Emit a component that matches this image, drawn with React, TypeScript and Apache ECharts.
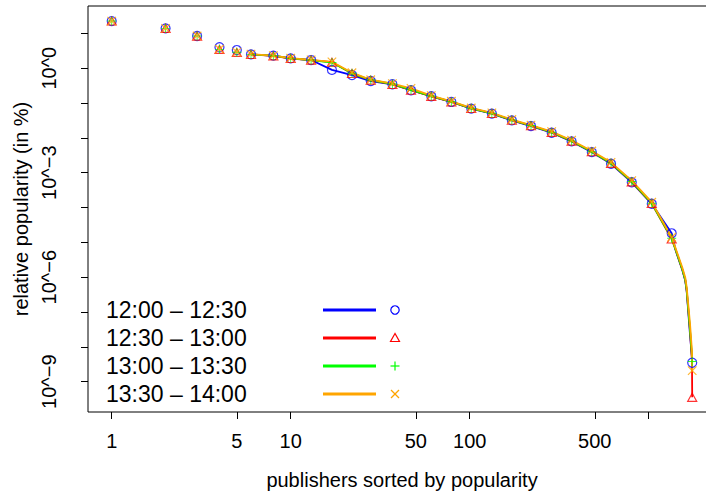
import React, { useEffect, useRef } from "react";
import * as echarts from "echarts";

// publishers rank at which markers are drawn
const xMarks = [1, 2, 3, 4, 5, 6, 8, 10, 13, 17, 22, 28, 37, 47, 61, 79, 102, 133, 172, 220, 287, 371, 481, 616, 804, 1040, 1344, 1750];
// relative popularity (in %) at the marker ranks
const blueVals = [22.5, 13.9, 8.36, 3.98, 3.31, 2.49, 2.28, 1.91, 1.71, 0.891, 0.635, 0.427, 0.345, 0.232, 0.156, 0.107, 0.069, 0.0497, 0.0318, 0.0218, 0.014, 0.0079, 0.00388, 0.0018, 5.3e-4, 1.28e-4, 1.82e-5, 3.5e-9];
const redVals = [22.5, 13.9, 8.3, 3.45, 2.83, 2.47, 2.26, 1.89, 1.7, 1.48, 0.7, 0.452, 0.34, 0.232, 0.155, 0.107, 0.0695, 0.05, 0.032, 0.0222, 0.0143, 0.00805, 0.00398, 0.00184, 5.45e-4, 1.3e-4, 1.25e-5, 3.55e-10];
const greenVals = [22.5, 13.9, 8.36, 3.47, 2.85, 2.49, 2.28, 1.91, 1.71, 1.45, 0.711, 0.457, 0.351, 0.238, 0.158, 0.109, 0.0703, 0.0506, 0.0325, 0.0225, 0.0145, 0.00815, 0.004, 0.00188, 5.55e-4, 1.33e-4, 1.31e-5, 3.8e-9];
const orangeVals = [22.5, 13.9, 8.4, 3.5, 2.88, 2.52, 2.3, 1.93, 1.73, 1.52, 0.74, 0.465, 0.36, 0.263, 0.162, 0.112, 0.072, 0.052, 0.0335, 0.0232, 0.015, 0.0085, 0.0042, 0.00198, 5.9e-4, 1.42e-4, 1.4e-5, 2.07e-9];

// extra points of the curves in the steep tail (no markers)
const xTail = [1413, 1541, 1600, 1630, 1702, 1745];
const blueTail = [6.0e-6, 1.6e-6, 8.0e-7, 4.0e-7, 2.2e-8, 4.8e-9];
const redTail = [6.1e-6, 1.65e-6, 8.3e-7, 4.2e-7, 2.8e-8, 4.0e-9];
const greenTail = [6.2e-6, 1.68e-6, 8.5e-7, 4.4e-7, 3.0e-8, 5.5e-9];
const orangeTail = [6.8e-6, 1.9e-6, 9.8e-7, 5.2e-7, 4.5e-8, 7.5e-9];

const periods = ["12:00 \u2013 12:30", "12:30 \u2013 13:00", "13:00 \u2013 13:30", "13:30 \u2013 14:00"];
const colors = ["#0000FF", "#FF0000", "#00FF00", "#FFA500"];

const xTickValues = [1, 5, 10, 50, 100, 500, 1000];
const xLabelValues = [1, 5, 10, 50, 100, 500];
const yTickValues = [10, 1, 0.1, 0.01, 1e-3, 1e-4, 1e-5, 1e-6, 1e-7, 1e-8, 1e-9];
const yLabelValues = [1, 1e-3, 1e-6, 1e-9];

const FONT = "Liberation Sans, Arial, Helvetica, sans-serif";
const LINE_START = 5; // curves are drawn from rank 6 onward

const PLUS = "path://M4.5,0H5.5V4.5H10V5.5H5.5V10H4.5V5.5H0V4.5H4.5Z";

export default function App() {
  const ref = useRef<HTMLDivElement>(null);
  useEffect(() => {
    if (!ref.current) return;
    const chart = echarts.init(ref.current, undefined, { renderer: "svg" });
    const vals = [blueVals, redVals, greenVals, orangeVals];
    const tails = [blueTail, redTail, greenTail, orangeTail];
    const symbols: any[] = [
      { symbol: "circle", symbolSize: 9, symbolRotate: 0, filled: false },
      { symbol: "triangle", symbolSize: [9, 8], symbolRotate: 0, filled: false },
      { symbol: PLUS, symbolSize: 9, symbolRotate: 0, filled: true },
      { symbol: PLUS, symbolSize: 12, symbolRotate: 45, filled: true },
    ];
    const series: any[] = [];
    vals.forEach((v, i) => {
      const pts: [number, number][] = [];
      for (let k = LINE_START; k < xMarks.length; k++) pts.push([xMarks[k], v[k]]);
      xTail.forEach((x, k) => pts.push([x, tails[i][k]]));
      pts.sort((a, b) => a[0] - b[0]);
      series.push({
        type: "line",
        name: periods[i],
        data: pts,
        showSymbol: false,
        lineStyle: { color: colors[i], width: 1.8 },
        z: 2 + i,
      });
    });
    vals.forEach((v, i) => {
      const s = symbols[i];
      series.push({
        type: "scatter",
        name: periods[i] + " markers",
        data: xMarks.map((x, k) => [x, v[k]]),
        symbol: s.symbol,
        symbolSize: s.symbolSize,
        symbolRotate: s.symbolRotate,
        itemStyle: s.filled
          ? { color: colors[i] }
          : { color: "transparent", borderColor: colors[i], borderWidth: 1.2 },
        z: 10 + i,
      });
    });

    const legendY = [310, 338, 366, 394];
    const graphic: any[] = [];
    periods.forEach((p, i) => {
      const y = legendY[i];
      graphic.push({
        type: "text",
        x: 106,
        y,
        style: { text: p, fontSize: 23, fontFamily: FONT, fill: "#000", verticalAlign: "middle", align: "left" },
      });
      graphic.push({
        type: "line",
        shape: { x1: 323, y1: y, x2: 376, y2: y },
        style: { stroke: colors[i], lineWidth: 3 },
      });
    });
    const mx = 395;
    graphic.push({ type: "circle", shape: { cx: mx, cy: legendY[0], r: 4.2 }, style: { fill: "none", stroke: colors[0], lineWidth: 1.2 } });
    graphic.push({
      type: "polygon",
      shape: { points: [[mx, legendY[1] - 4.5], [mx - 4.5, legendY[1] + 3.5], [mx + 4.5, legendY[1] + 3.5]] },
      style: { fill: "none", stroke: colors[1], lineWidth: 1.2 },
    });
    graphic.push({ type: "line", shape: { x1: mx - 4.5, y1: legendY[2], x2: mx + 4.5, y2: legendY[2] }, style: { stroke: colors[2], lineWidth: 1.2 } });
    graphic.push({ type: "line", shape: { x1: mx, y1: legendY[2] - 4.5, x2: mx, y2: legendY[2] + 4.5 }, style: { stroke: colors[2], lineWidth: 1.2 } });
    graphic.push({ type: "line", shape: { x1: mx - 4, y1: legendY[3] - 4, x2: mx + 4, y2: legendY[3] + 4 }, style: { stroke: colors[3], lineWidth: 1.2 } });
    graphic.push({ type: "line", shape: { x1: mx - 4, y1: legendY[3] + 4, x2: mx + 4, y2: legendY[3] - 4 }, style: { stroke: colors[3], lineWidth: 1.2 } });

    const fmtY = (v: number) => {
      const e = Math.round(Math.log10(v));
      return "10^" + String(e).replace("-", "\u2212");
    };

    chart.setOption({
      animation: false,
      backgroundColor: "#fff",
      textStyle: { fontFamily: FONT },
      grid: { left: 88, top: 6, right: 0, bottom: 83, show: true, borderColor: "#000", borderWidth: 1, containLabel: false },
      xAxis: {
        type: "log",
        logBase: 10,
        min: Math.pow(10, -0.1324),
        max: Math.pow(10, 3.376),
        axisLine: { show: false },
        axisTick: { show: true, length: 7, lineStyle: { color: "#000", width: 1 }, customValues: xTickValues },
        axisLabel: { customValues: xLabelValues, fontSize: 20, color: "#000", margin: 19, fontFamily: FONT, formatter: (v: number) => String(Math.round(v)) },
        splitLine: { show: false },
        minorTick: { show: false },
        name: "publishers sorted by popularity",
        nameLocation: "middle",
        nameGap: 58,
        nameTextStyle: { fontSize: 20, color: "#000", fontFamily: FONT },
      },
      yAxis: {
        type: "log",
        logBase: 10,
        min: Math.pow(10, -9.87),
        max: Math.pow(10, 1.784),
        axisLine: { show: false },
        axisTick: { show: true, length: 7, lineStyle: { color: "#000", width: 1 }, customValues: yTickValues },
        axisLabel: { customValues: yLabelValues, rotate: 90, fontSize: 20, color: "#000", margin: 29, fontFamily: FONT, formatter: fmtY },
        splitLine: { show: false },
        name: "relative popularity (in %)",
        nameLocation: "middle",
        nameGap: 53,
        nameTextStyle: { fontSize: 20, color: "#000", fontFamily: FONT },
      },
      series,
      graphic,
    });
    return () => chart.dispose();
  }, []);
  return (
    <div style={{ position: "fixed", left: 0, top: 0, width: 706, height: 495, overflow: "hidden", background: "#fff" }}>
      <div ref={ref} style={{ width: 716, height: 495 }} />
    </div>
  );
}
